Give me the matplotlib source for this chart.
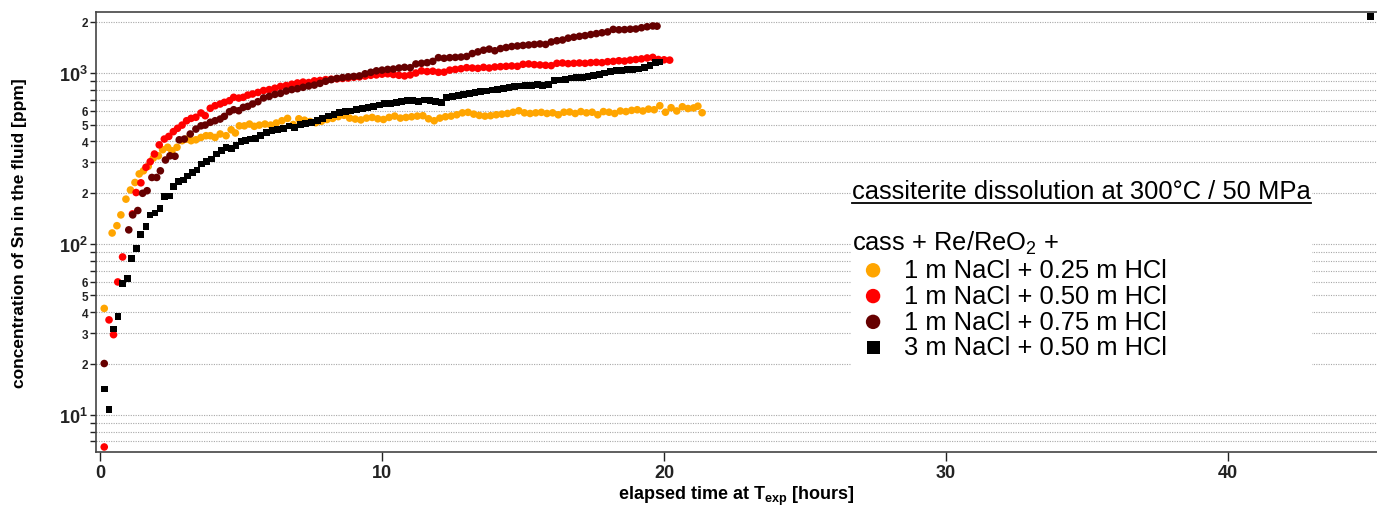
import matplotlib
matplotlib.use('Agg')
import matplotlib.pyplot as plt
from matplotlib.ticker import FixedLocator, FuncFormatter
from matplotlib.patches import Rectangle
from matplotlib.lines import Line2D

plt.rcParams['font.family'] = ['Liberation Sans', 'DejaVu Sans']
plt.rcParams['mathtext.fontset'] = 'custom'
plt.rcParams['mathtext.rm'] = 'Liberation Sans'
plt.rcParams['mathtext.bf'] = 'Liberation Sans:bold'
plt.rcParams['mathtext.it'] = 'Liberation Sans:italic'

# ---------------- data ----------------
orange_t = [0.15, 0.43, 0.60, 0.74, 0.92, 1.08, 1.24, 1.39, 1.54, 1.71, 1.89, 2.07, 2.22, 2.40, 2.55, 2.73,
            2.91, 3.07, 3.23, 3.40, 3.58, 3.76, 3.91, 4.08, 4.26, 4.47, 4.65, 4.80, 4.94, 5.12, 5.30, 5.47,
            5.65, 5.85, 6.05, 6.25, 6.45, 6.65, 6.85, 7.05, 7.25, 7.45, 7.65, 7.85, 8.05, 8.25, 8.45, 8.65,
            8.85, 9.05, 9.25, 9.45, 9.65, 9.85, 10.05, 10.25, 10.45, 10.65, 10.85, 11.05, 11.25, 11.45,
            11.65, 11.85, 12.05, 12.25, 12.45, 12.65, 12.85, 13.05, 13.25, 13.45, 13.65, 13.85, 14.05,
            14.25, 14.45, 14.65, 14.85, 15.05, 15.25, 15.45, 15.65, 15.85, 16.05, 16.25, 16.45, 16.65,
            16.85, 17.05, 17.25, 17.45, 17.65, 17.85, 18.05, 18.25, 18.45, 18.65, 18.85, 19.05, 19.25,
            19.45, 19.65, 19.85, 20.05, 20.25, 20.45, 20.65, 20.85, 21.05, 21.20, 21.35]
orange_c = [42, 116, 128, 148, 183, 207, 229, 257, 268, 285, 318, 328, 356, 368, 351, 368,
            402, 411, 402, 407, 420, 430, 430, 420, 440, 430, 466, 446, 491, 491, 503, 488,
            496, 503, 496, 510, 526, 543, 500, 540, 530, 520, 512, 522, 535, 543, 556, 566,
            545, 538, 532, 545, 550, 540, 535, 550, 560, 545, 550, 555, 560, 563,
            540, 526, 545, 555, 560, 570, 585, 589, 575, 565, 560, 563, 570,
            575, 580, 590, 602, 585, 580, 585, 589, 580, 585, 570, 590, 592,
            580, 595, 585, 590, 570, 595, 590, 580, 600, 595, 605, 610, 600,
            615, 610, 644, 590, 627, 600, 635, 620, 625, 640, 586]

red_t = [0.15, 0.32, 0.48, 0.63, 0.80, 1.15, 1.28, 1.45, 1.63, 1.78, 1.93, 2.10, 2.28, 2.44, 2.60, 2.75,
         2.91, 3.07, 3.23, 3.40, 3.58, 3.73, 3.91, 4.08, 4.26, 4.41, 4.59, 4.74, 4.92, 5.08, 5.24, 5.41,
         5.6, 5.8, 6.0, 6.2, 6.4, 6.6, 6.8, 7.0, 7.2, 7.4, 7.6, 7.8, 8.0, 8.2, 8.4, 8.6, 8.8, 9.0, 9.2,
         9.4, 9.6, 9.8, 10.0, 10.2, 10.4, 10.6, 10.8, 11.0, 11.2, 11.4, 11.6, 11.8, 12.0, 12.2, 12.4,
         12.6, 12.8, 13.0, 13.2, 13.4, 13.6, 13.8, 14.0, 14.2, 14.4, 14.6, 14.8, 15.0, 15.2, 15.4, 15.6,
         15.8, 16.0, 16.2, 16.4, 16.6, 16.8, 17.0, 17.2, 17.4, 17.6, 17.8, 18.0, 18.2, 18.4, 18.6, 18.8,
         19.0, 19.2, 19.4, 19.6, 19.8, 20.0, 20.2]
red_c = [6.5, 36, 29.5, 60, 84, 150, 200, 228, 281, 303, 336, 380, 411, 426, 454, 475,
         496, 526, 543, 551, 584, 563, 622, 644, 659, 674, 689, 721, 714, 721, 743, 754,
         770, 790, 800, 815, 835, 845, 860, 875, 885, 880, 900, 905, 915, 920, 925, 930, 935, 945, 950,
         960, 970, 975, 985, 990, 980, 970, 962, 975, 1000, 1030, 1020, 1025, 1010, 1012, 1040,
         1050, 1060, 1075, 1070, 1065, 1080, 1070, 1085, 1090, 1095, 1100, 1095, 1125, 1130, 1120, 1115,
         1110, 1105, 1140, 1145, 1135, 1140, 1145, 1140, 1150, 1155, 1150, 1165, 1170, 1180, 1175, 1190,
         1200, 1210, 1225, 1235, 1200, 1195, 1190]

maroon_t = [0.15, 1.02, 1.16, 1.34, 1.51, 1.67, 1.84, 2.01, 2.14, 2.32, 2.48, 2.66, 2.81, 2.99, 3.20,
            3.40, 3.58, 3.73, 3.91, 4.08, 4.26, 4.41, 4.59, 4.74, 4.92, 5.08, 5.24, 5.41,
            5.6, 5.8, 6.0, 6.2, 6.4, 6.6, 6.8, 7.0, 7.2, 7.4, 7.6, 7.8, 8.0, 8.2, 8.4, 8.6, 8.8, 9.0, 9.2,
            9.4, 9.6, 9.8, 10.0, 10.2, 10.4, 10.6, 10.8, 11.0, 11.2, 11.4, 11.6, 11.8, 12.0, 12.2, 12.4,
            12.6, 12.8, 13.0, 13.2, 13.4, 13.6, 13.8, 14.0, 14.2, 14.4, 14.6, 14.8, 15.0, 15.2, 15.4, 15.6,
            15.8, 16.0, 16.2, 16.4, 16.6, 16.8, 17.0, 17.2, 17.4, 17.6, 17.8, 18.0, 18.2, 18.4, 18.6, 18.8,
            19.0, 19.2, 19.4, 19.6, 19.75]
maroon_c = [20, 121, 148, 157, 198, 205, 245, 245, 268, 310, 328, 326, 407, 411, 440,
            470, 491, 496, 515, 526, 538, 558, 594, 610, 602, 630, 638, 659,
            680, 715, 730, 750, 760, 785, 800, 810, 825, 840, 850, 870, 895, 915, 930, 940, 950, 955, 962,
            990, 1010, 1030, 1040, 1050, 1055, 1070, 1080, 1075, 1130, 1140, 1150, 1170, 1230, 1220, 1230,
            1235, 1240, 1250, 1300, 1330, 1360, 1380, 1350, 1390, 1410, 1430, 1440, 1450, 1460, 1470, 1480,
            1470, 1520, 1545, 1560, 1600, 1620, 1640, 1655, 1680, 1700, 1720, 1740, 1800, 1790, 1795, 1805,
            1810, 1840, 1865, 1885, 1880]

black_t = [0.15, 0.32, 0.48, 0.64, 0.80, 0.97, 1.12, 1.30, 1.45, 1.63, 1.77, 1.95, 2.13, 2.30, 2.46, 2.61,
           2.79, 2.95, 3.11, 3.29, 3.44, 3.60, 3.78, 3.96, 4.14, 4.32, 4.47, 4.65, 4.82, 5.00, 5.15, 5.33, 5.51,
           5.7, 5.9, 6.1, 6.3, 6.5, 6.7, 6.9, 7.1, 7.3, 7.5, 7.7, 7.9, 8.1, 8.3, 8.5, 8.7, 8.9, 9.1, 9.3,
           9.5, 9.7, 9.9, 10.1, 10.3, 10.5, 10.7, 10.9, 11.1, 11.3, 11.5, 11.7, 11.9, 12.1, 12.3, 12.5,
           12.7, 12.9, 13.1, 13.3, 13.5, 13.7, 13.9, 14.1, 14.3, 14.5, 14.7, 14.9, 15.1, 15.3, 15.5, 15.7,
           15.9, 16.1, 16.3, 16.5, 16.7, 16.9, 17.1, 17.3, 17.5, 17.7, 17.9, 18.1, 18.3, 18.5, 18.7, 18.9,
           19.1, 19.3, 19.5, 19.7, 19.85, 45.05]
black_c = [14.2, 10.8, 31.8, 37.8, 59, 63, 82, 94, 114, 127, 148, 152, 162, 189, 191, 217,
           231, 237, 250, 263, 271, 294, 303, 314, 336, 351, 368, 363, 376, 397, 402, 411, 415,
           430, 450, 460, 468, 475, 490, 480, 500, 505, 515, 525, 540, 560, 575, 585, 595, 600, 610, 620,
           630, 640, 650, 660, 666, 674, 680, 690, 692, 685, 695, 690, 680, 670, 720, 730,
           740, 750, 760, 770, 780, 785, 795, 805, 812, 820, 830, 840, 845, 850, 855, 850,
           855, 900, 910, 920, 935, 940, 945, 955, 970, 985, 1000, 1020, 1030, 1040, 1050, 1045,
           1055, 1080, 1110, 1150, 1160, 2150]

series_labels = ['1 m NaCl + 0.25 m HCl', '1 m NaCl + 0.50 m HCl',
                 '1 m NaCl + 0.75 m HCl', '3 m NaCl + 0.50 m HCl']
series_colors = ['#FFA500', '#FF0000', '#660000', '#000000']

x_ticks = [0, 10, 20, 30, 40]
y_major = [10, 100, 1000]
y_major_labels = [r'$\mathbf{10}^{\mathbf{1}}$', r'$\mathbf{10}^{\mathbf{2}}$', r'$\mathbf{10}^{\mathbf{3}}$']
y_minor = [7, 8, 9, 20, 30, 40, 50, 60, 70, 80, 90, 200, 300, 400, 500, 600, 700, 800, 900, 2000]
y_minor_labeled = {20: '2', 30: '3', 40: '4', 50: '5', 60: '6',
                   200: '2', 300: '3', 400: '4', 500: '5', 600: '6', 2000: '2'}

# ---------------- figure ----------------
W, H = 1377, 506
fig = plt.figure(figsize=(W / 100, H / 100), dpi=100)
ax = fig.add_axes([96 / W, 1 - 452.7 / H, (W - 96) / W, (452.7 - 13) / H])

ax.set_yscale('log')
ax.set_xlim(-0.142, 45.28)
ax.set_ylim(6.1, 2275)

ax.set_axisbelow(True)
ax.yaxis.grid(True, which='both', linestyle=(0, (1, 1.2)), color='#a8a8a8', linewidth=0.8)
ax.xaxis.grid(False)

series = [(orange_t, orange_c, 'o'), (red_t, red_c, 'o'), (maroon_t, maroon_c, 'o'), (black_t, black_c, 's')]
handles = []
for (t, c, m), lab, col in zip(series, series_labels, series_colors):
    s = 30 if m == 'o' else 24
    h = ax.scatter(t, c, s=s, marker=m, color=col, edgecolors='none', zorder=3, label=lab, clip_on=False)
    handles.append(h)

# ticks
ax.xaxis.set_major_locator(FixedLocator(x_ticks))
ax.set_xticklabels([str(v) for v in x_ticks], fontweight='bold', fontsize=13)
ax.yaxis.set_major_locator(FixedLocator(y_major))
ax.yaxis.set_major_formatter(FuncFormatter(lambda v, p: y_major_labels[y_major.index(int(round(v)))] if int(round(v)) in y_major else ''))
ax.yaxis.set_minor_locator(FixedLocator(y_minor))
ax.yaxis.set_minor_formatter(FuncFormatter(lambda v, p: y_minor_labeled.get(int(round(v)), '')))
ax.tick_params(axis='x', which='major', direction='out', length=6.5, width=1.0, pad=2.5, colors='#222222')
ax.tick_params(axis='y', which='major', direction='out', length=4.5, width=1.0, pad=1.5, labelsize=13, colors='#222222')
ax.tick_params(axis='y', which='minor', direction='out', length=4.0, width=1.0, pad=1.5, labelsize=8.5, colors='#222222')
for lab in ax.get_yticklabels(minor=True):
    lab.set_fontweight('bold')
for lab in ax.get_xticklabels():
    lab.set_fontweight('bold')

for sp in ['left', 'top', 'bottom']:
    ax.spines[sp].set_color('#444444')
    ax.spines[sp].set_linewidth(1.2)
ax.spines['right'].set_visible(False)

ax.set_ylabel('concentration of Sn in the fluid [ppm]', fontweight='bold', fontsize=12.5)
ax.yaxis.set_label_coords(-0.054, 0.5)
ax.set_xlabel(r'elapsed time at T$_{\mathbf{exp}}$ [hours]', fontweight='bold', fontsize=13)
ax.xaxis.set_label_coords(0.5, -0.074)

# white legend area
ax.add_patch(Rectangle((851 / W, 1 - 372 / H), (1312 - 851) / W, (372 - 178) / H,
                       transform=fig.transFigure, facecolor='white', edgecolor='none', zorder=1))

leg = ax.legend(handles, series_labels, title='cass + Re/ReO$_2$ +', loc='upper left',
                bbox_to_anchor=(852 / W, 1 - 230 / H), bbox_transform=fig.transFigure,
                frameon=False, fontsize=18.4, title_fontsize=18.4, alignment='left',
                borderpad=0, borderaxespad=0, handlelength=1.65, handletextpad=0.4,
                labelspacing=0.07, markerscale=1.9)
leg.set_zorder(5)

ttl = fig.text(852 / W, 1 - 199 / H, 'cassiterite dissolution at 300°C / 50 MPa',
               fontsize=18.4, ha='left', va='baseline', zorder=6)
fig.canvas.draw()
bb = ttl.get_window_extent(renderer=fig.canvas.get_renderer())
fig.add_artist(Line2D([bb.x0 / W, bb.x1 / W], [1 - 203.5 / H, 1 - 203.5 / H],
                      transform=fig.transFigure, color='black', linewidth=1.3))

fig.savefig('out.png', dpi=100)
